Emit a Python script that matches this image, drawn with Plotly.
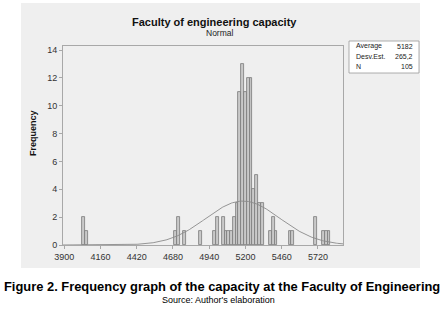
import numpy as np
import plotly.graph_objects as go

# ---- data ----
bin_centers = [4040, 4060, 4700, 4720, 4760, 4880, 4980, 5000, 5040, 5060, 5080,
               5100, 5120, 5140, 5160, 5180, 5200, 5220, 5240, 5260, 5280, 5300,
               5320, 5380, 5400, 5420, 5520, 5540, 5700, 5760, 5780, 5800]
counts = [2, 1, 1, 2, 1, 1, 1, 2, 2, 1, 1,
          1, 2, 3, 11, 13, 11, 12, 12, 4, 5, 3,
          3, 1, 2, 1, 1, 1, 2, 1, 1, 1]
bin_width = 20
x_ticks = [3900, 4160, 4420, 4680, 4940, 5200, 5460, 5720]
y_ticks = [0, 2, 4, 6, 8, 10, 12, 14]
stat_labels = ["Average", "Desv.Est.", "N"]
stat_values = ["5182", "265,2", "105"]
mean_val = 5182
sd_val = 265.2
n_val = 105

X_RANGE = [3891, 5900]
Y_RANGE = [0, 14.29]

fig = go.Figure()

fig.add_trace(go.Bar(
    x=bin_centers, y=counts, width=bin_width,
    marker=dict(color="#c9c9c9", line=dict(color="#7a7a7a", width=0.8)),
    showlegend=False, hoverinfo="skip"))

# fitted normal curve from the stated mean / st.dev.
cx = np.linspace(X_RANGE[0], X_RANGE[1], 300)
cy = n_val * bin_width / (sd_val * np.sqrt(2 * np.pi)) * np.exp(-0.5 * ((cx - mean_val) / sd_val) ** 2)
fig.add_trace(go.Scatter(x=cx, y=cy, mode="lines",
                         line=dict(color="#8a8a8a", width=0.9),
                         showlegend=False, hoverinfo="skip"))

L, R, T, B = 63, 343, 46, 245
W, H = 443, 315
def px(x):
    return (x - L) / (R - L)
def py(y):
    return (B - y) / (B - T)

shapes = [
    dict(type="rect", xref="paper", yref="paper", x0=px(21), x1=px(420), y0=py(268), y1=py(3),
         fillcolor="#efefef", line=dict(width=0), layer="below"),
    dict(type="rect", xref="paper", yref="paper", x0=px(349), x1=px(419), y0=py(73), y1=py(41),
         fillcolor="white", line=dict(color="#9a9a9a", width=0.8), layer="above"),
]

FONT = "Liberation Sans, Arial"
annotations = [
    dict(text="<b>Faculty of engineering capacity</b>", x=px(214), y=py(22), xref="paper", yref="paper",
         showarrow=False, font=dict(family=FONT, size=11, color="#111111"),
         xanchor="center", yanchor="middle"),
    dict(text="Normal", x=px(220), y=py(33), xref="paper", yref="paper",
         showarrow=False, font=dict(family=FONT, size=8.5, color="#222222"),
         xanchor="center", yanchor="middle"),
    dict(text="<b>Frequency</b>", x=px(33), y=py(133), xref="paper", yref="paper", textangle=-90,
         showarrow=False, font=dict(family=FONT, size=9, color="#111111"),
         xanchor="center", yanchor="middle"),
    dict(text="<b>Figure 2. Frequency graph of the capacity at the Faculty of Engineering</b>",
         x=px(221.5), y=py(286.5), xref="paper", yref="paper",
         showarrow=False, font=dict(family=FONT, size=12.9, color="#000000"),
         xanchor="center", yanchor="middle"),
    dict(text="Source: Author's elaboration", x=px(218), y=py(299.5), xref="paper", yref="paper",
         showarrow=False, font=dict(family=FONT, size=9, color="#000000"),
         xanchor="center", yanchor="middle"),
]
row_y = [46, 56, 66]
for lab, val, ry in zip(stat_labels, stat_values, row_y):
    annotations.append(dict(text=lab, x=px(354), y=py(ry), xref="paper", yref="paper",
                            showarrow=False, xanchor="left", yanchor="middle",
                            font=dict(family=FONT, size=7, color="#222222")))
    annotations.append(dict(text=val, x=px(415), y=py(ry), xref="paper", yref="paper",
                            showarrow=False, xanchor="right", yanchor="middle",
                            font=dict(family=FONT, size=7, color="#222222")))

fig.update_layout(
    width=W, height=H,
    margin=dict(l=L, r=W - R, t=T, b=H - B, pad=0),
    paper_bgcolor="white", plot_bgcolor="white",
    bargap=0,
    shapes=shapes, annotations=annotations,
    font=dict(family=FONT, size=9, color="#333333"),
    xaxis=dict(range=X_RANGE, tickvals=x_ticks, ticktext=[str(v) for v in x_ticks],
               showgrid=False, zeroline=False, showline=True, mirror=True,
               linecolor="#a8a8a8", linewidth=1, ticks="outside", ticklen=3,
               tickcolor="#a8a8a8", tickfont=dict(size=9, color="#333333")),
    yaxis=dict(range=Y_RANGE, tickvals=y_ticks, ticktext=[str(v) for v in y_ticks],
               showgrid=False, zeroline=False, showline=True, mirror=True,
               linecolor="#a8a8a8", linewidth=1, ticks="outside", ticklen=3,
               tickcolor="#a8a8a8", tickfont=dict(size=9, color="#333333")),
)

fig.write_html("out.html", config={"displayModeBar": False},
               post_script="document.body.style.margin='0';document.body.style.padding='0';")
